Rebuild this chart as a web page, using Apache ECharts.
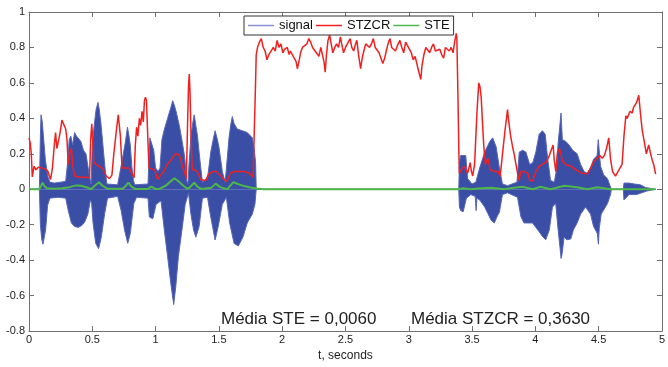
<!DOCTYPE html>
<html>
<head>
<meta charset="utf-8">
<script src="https://cdn.jsdelivr.net/npm/echarts@6/dist/echarts.min.js"></script>
<style>html,body{margin:0;padding:0;background:#fff}#c{width:668px;height:367px}</style>
</head>
<body>
<div id="c"></div>
<script>
// ---- data (t in seconds, value) ----
const signalUpper = [
[0,0],[0.082,0],[0.090,0.30],[0.095,0.42],[0.105,0.38],[0.115,0.29],[0.130,0.16],[0.150,0.07],[0.165,0.04],
[0.20,0.035],[0.25,0.04],[0.29,0.045],[0.305,0.15],[0.318,0.28],[0.330,0.30],[0.345,0.25],[0.36,0.32],[0.375,0.30],
[0.39,0.29],[0.41,0.27],[0.43,0.22],[0.45,0.20],[0.465,0.19],[0.478,0.07],[0.49,0.03],[0.50,0.25],[0.515,0.36],
[0.53,0.45],[0.545,0.49],[0.555,0.45],[0.57,0.36],[0.59,0.20],[0.605,0.09],[0.615,0.03],[0.70,0.025],[0.725,0.12],
[0.745,0.20],[0.76,0.26],[0.778,0.35],[0.79,0.30],[0.80,0.25],[0.812,0.13],[0.825,0.05],[0.835,0.025],[0.94,0.03],
[0.955,0.29],[0.97,0.30],[0.985,0.22],[1.0,0.12],[1.02,0.10],[1.035,0.12],[1.05,0.28],[1.07,0.34],[1.095,0.40],
[1.12,0.46],[1.135,0.50],[1.15,0.47],[1.165,0.43],[1.187,0.36],[1.21,0.27],[1.23,0.18],[1.245,0.05],[1.255,0.03],
[1.265,0.15],[1.28,0.30],[1.295,0.38],[1.305,0.42],[1.318,0.36],[1.331,0.30],[1.345,0.20],[1.357,0.12],[1.37,0.04],
[1.41,0.06],[1.436,0.21],[1.455,0.28],[1.47,0.33],[1.485,0.29],[1.50,0.24],[1.527,0.10],[1.55,0.04],[1.565,0.05],
[1.58,0.29],[1.595,0.37],[1.606,0.41],[1.62,0.37],[1.645,0.34],[1.685,0.33],[1.724,0.32],[1.764,0.29],[1.78,0.22],
[1.79,0.15],[1.795,0],[3.395,0],[3.40,0.15],[3.41,0.19],[3.45,0.19],[3.465,0.06],[3.50,0.03],[3.53,0.04],[3.56,0.12],
[3.60,0.21],[3.64,0.27],[3.663,0.29],[3.69,0.24],[3.716,0.12],[3.74,0.03],[3.78,0.02],[3.855,0.04],[3.873,0.21],
[3.90,0.22],[3.925,0.21],[3.955,0.14],[3.98,0.15],[4.004,0.21],[4.03,0.31],[4.056,0.33],[4.078,0.31],[4.096,0.18],
[4.12,0.05],[4.15,0.04],[4.165,0.10],[4.18,0.26],[4.195,0.27],[4.203,0.43],[4.208,0.43],[4.213,0.28],[4.24,0.27],
[4.266,0.25],[4.295,0.22],[4.33,0.20],[4.358,0.14],[4.385,0.10],[4.41,0.09],[4.436,0.12],[4.46,0.17],[4.488,0.19],
[4.497,0.28],[4.503,0.28],[4.515,0.13],[4.54,0.08],[4.57,0.06],[4.59,0.02],[4.60,0],[4.695,0],[4.70,0.035],
[4.74,0.035],[4.78,0.03],[4.83,0.025],[4.87,0.01],[4.88,0],[4.95,0]
];
const signalLower = [
[0,0],[0.082,0],[0.090,-0.20],[0.100,-0.28],[0.110,-0.31],[0.120,-0.315],[0.131,-0.23],[0.147,-0.09],[0.165,-0.05],
[0.23,-0.045],[0.29,-0.05],[0.31,-0.12],[0.335,-0.19],[0.36,-0.21],[0.39,-0.215],[0.415,-0.205],[0.44,-0.185],
[0.465,-0.14],[0.485,-0.06],[0.495,-0.08],[0.506,-0.19],[0.527,-0.305],[0.55,-0.335],[0.571,-0.27],[0.597,-0.14],
[0.62,-0.05],[0.70,-0.04],[0.728,-0.12],[0.755,-0.23],[0.78,-0.305],[0.80,-0.25],[0.828,-0.08],[0.85,-0.045],
[0.94,-0.05],[0.951,-0.157],[0.978,-0.166],[1.004,-0.085],[1.043,-0.065],[1.069,-0.23],[1.095,-0.38],[1.12,-0.53],
[1.143,-0.65],[1.16,-0.545],[1.18,-0.38],[1.208,-0.23],[1.234,-0.085],[1.26,-0.02],[1.279,-0.14],[1.30,-0.23],
[1.318,-0.27],[1.344,-0.21],[1.37,-0.05],[1.41,-0.045],[1.436,-0.157],[1.47,-0.286],[1.495,-0.21],[1.527,-0.085],
[1.559,-0.045],[1.585,-0.19],[1.62,-0.305],[1.653,-0.32],[1.69,-0.27],[1.724,-0.19],[1.764,-0.14],[1.785,-0.083],
[1.795,0],[3.395,0],[3.40,-0.10],[3.41,-0.12],[3.43,-0.127],[3.455,-0.05],[3.49,-0.03],[3.525,-0.04],[3.532,-0.12],
[3.538,-0.05],[3.56,-0.06],[3.60,-0.10],[3.625,-0.137],[3.65,-0.174],[3.676,-0.19],[3.70,-0.15],[3.716,-0.13],
[3.74,-0.03],[3.78,-0.02],[3.859,-0.045],[3.886,-0.155],[3.91,-0.19],[3.94,-0.19],[3.978,-0.19],[4.03,-0.24],
[4.056,-0.266],[4.082,-0.285],[4.11,-0.23],[4.135,-0.10],[4.161,-0.08],[4.18,-0.23],[4.195,-0.33],[4.203,-0.39],
[4.21,-0.37],[4.227,-0.27],[4.25,-0.285],[4.28,-0.28],[4.30,-0.23],[4.33,-0.19],[4.358,-0.14],[4.397,-0.10],
[4.436,-0.14],[4.46,-0.21],[4.49,-0.25],[4.498,-0.31],[4.505,-0.22],[4.52,-0.14],[4.57,-0.08],[4.594,-0.03],
[4.60,0],[4.695,0],[4.70,-0.06],[4.74,-0.03],[4.80,-0.03],[4.88,-0.01],[4.885,0],[4.95,0]
];
const stzcr = [
[0.000,0.29],[0.010,0.26],[0.018,0.20],[0.026,0.07],[0.040,0.13],[0.055,0.11],[0.075,0.125],[0.100,0.12],[0.130,0.115],
[0.150,0.10],[0.170,0.055],[0.185,0.12],[0.200,0.25],[0.210,0.32],[0.220,0.23],[0.235,0.28],[0.248,0.33],[0.260,0.39],
[0.275,0.385],[0.290,0.34],[0.300,0.28],[0.310,0.14],[0.322,0.20],[0.335,0.23],[0.348,0.12],[0.362,0.075],[0.400,0.068],
[0.440,0.068],[0.478,0.065],[0.487,0.28],[0.496,0.37],[0.503,0.38],[0.512,0.15],[0.530,0.14],[0.555,0.13],[0.585,0.115],
[0.610,0.075],[0.635,0.06],[0.655,0.08],[0.670,0.20],[0.690,0.33],[0.705,0.42],[0.712,0.43],[0.722,0.30],[0.735,0.12],
[0.760,0.12],[0.790,0.12],[0.812,0.09],[0.830,0.065],[0.840,0.25],[0.850,0.35],[0.860,0.30],[0.872,0.40],[0.882,0.36],
[0.893,0.44],[0.903,0.38],[0.912,0.50],[0.920,0.52],[0.928,0.50],[0.938,0.30],[0.948,0.12],[0.970,0.115],[0.995,0.11],
[1.015,0.055],[1.040,0.08],[1.065,0.10],[1.090,0.14],[1.115,0.16],[1.135,0.18],[1.155,0.20],[1.175,0.20],[1.195,0.18],
[1.215,0.12],[1.232,0.09],[1.243,0.06],[1.252,0.35],[1.260,0.58],[1.266,0.65],[1.272,0.55],[1.280,0.30],[1.290,0.11],
[1.310,0.11],[1.330,0.10],[1.355,0.055],[1.395,0.05],[1.420,0.085],[1.450,0.10],[1.480,0.10],[1.510,0.08],[1.540,0.055],
[1.565,0.045],[1.590,0.09],[1.620,0.10],[1.660,0.10],[1.700,0.10],[1.740,0.09],[1.770,0.07],[1.778,0.06],[1.788,0.55],
[1.795,0.76],[1.805,0.80],[1.82,0.83],[1.835,0.85],[1.85,0.80],[1.865,0.78],[1.88,0.73],[1.895,0.76],[1.91,0.75],
[1.93,0.80],[1.945,0.78],[1.96,0.84],[1.975,0.80],[1.99,0.82],[2.005,0.77],[2.02,0.79],[2.04,0.80],[2.055,0.76],
[2.065,0.78],[2.08,0.77],[2.095,0.74],[2.11,0.72],[2.12,0.68],[2.135,0.73],[2.145,0.77],[2.16,0.80],[2.175,0.79],
[2.195,0.82],[2.21,0.85],[2.225,0.83],[2.24,0.80],[2.255,0.81],[2.27,0.77],[2.29,0.75],[2.305,0.80],[2.32,0.79],
[2.33,0.72],[2.34,0.66],[2.35,0.76],[2.362,0.84],[2.375,0.87],[2.385,0.83],[2.40,0.77],[2.415,0.80],[2.43,0.82],
[2.445,0.80],[2.46,0.86],[2.47,0.82],[2.485,0.77],[2.50,0.80],[2.515,0.81],[2.537,0.85],[2.55,0.80],[2.565,0.78],
[2.58,0.82],[2.59,0.84],[2.605,0.75],[2.62,0.68],[2.632,0.74],[2.645,0.78],[2.66,0.82],[2.675,0.83],[2.69,0.80],
[2.705,0.82],[2.72,0.85],[2.735,0.80],[2.75,0.79],[2.765,0.77],[2.78,0.78],[2.795,0.71],[2.81,0.74],[2.825,0.79],
[2.84,0.83],[2.852,0.85],[2.865,0.80],[2.88,0.79],[2.895,0.78],[2.91,0.81],[2.93,0.84],[2.945,0.80],[2.96,0.77],
[2.975,0.83],[2.99,0.84],[3.005,0.79],[3.02,0.77],[3.035,0.73],[3.05,0.75],[3.065,0.74],[3.08,0.66],[3.095,0.62],
[3.105,0.70],[3.12,0.76],[3.135,0.80],[3.15,0.79],[3.165,0.77],[3.18,0.80],[3.195,0.82],[3.21,0.78],[3.225,0.77],
[3.245,0.79],[3.26,0.76],[3.275,0.74],[3.29,0.80],[3.305,0.79],[3.32,0.78],[3.335,0.80],[3.35,0.77],[3.362,0.83],
[3.375,0.88],[3.38,0.85],[3.388,0.55],[3.396,0.20],[3.40,0.09],[3.415,0.11],[3.428,0.11],[3.44,0.13],[3.454,0.13],
[3.465,0.09],[3.475,0.12],[3.485,0.15],[3.495,0.10],[3.505,0.075],[3.52,0.14],[3.53,0.30],[3.54,0.45],[3.553,0.60],
[3.562,0.58],[3.572,0.52],[3.582,0.38],[3.592,0.25],[3.605,0.14],[3.625,0.175],[3.643,0.11],[3.68,0.10],[3.705,0.10],
[3.722,0.074],[3.742,0.21],[3.76,0.33],[3.772,0.40],[3.78,0.45],[3.79,0.38],[3.805,0.30],[3.82,0.24],[3.835,0.19],
[3.852,0.12],[3.87,0.05],[3.885,0.10],[3.912,0.10],[3.94,0.09],[3.957,0.05],[3.978,0.047],[4.004,0.10],[4.03,0.13],
[4.056,0.14],[4.088,0.155],[4.11,0.19],[4.125,0.22],[4.14,0.25],[4.15,0.16],[4.162,0.10],[4.175,0.21],[4.19,0.23],
[4.205,0.22],[4.214,0.16],[4.24,0.14],[4.28,0.13],[4.32,0.11],[4.345,0.10],[4.37,0.09],[4.41,0.087],[4.436,0.12],
[4.46,0.155],[4.488,0.175],[4.51,0.19],[4.528,0.175],[4.545,0.19],[4.562,0.23],[4.58,0.29],[4.593,0.175],[4.61,0.10],
[4.633,0.074],[4.66,0.11],[4.685,0.14],[4.70,0.30],[4.715,0.415],[4.725,0.40],[4.737,0.39],[4.748,0.44],[4.756,0.45],
[4.765,0.43],[4.775,0.46],[4.79,0.47],[4.80,0.49],[4.81,0.50],[4.817,0.53],[4.83,0.43],[4.843,0.34],[4.86,0.27],
[4.877,0.20],[4.895,0.25],[4.914,0.19],[4.925,0.16],[4.935,0.14],[4.95,0.085]
];
const ste = [
[0,0],[0.08,0],[0.095,0.02],[0.107,0.037],[0.12,0.02],[0.14,0.006],[0.20,0.003],[0.26,0.006],[0.32,0.012],[0.37,0.022],
[0.41,0.02],[0.46,0.01],[0.49,0.0],[0.52,0.02],[0.553,0.04],[0.58,0.02],[0.62,0.003],[0.74,0.003],[0.765,0.02],
[0.785,0.037],[0.81,0.015],[0.84,0.002],[0.94,0.002],[0.965,0.015],[0.98,0.012],[1.0,0.003],[1.03,0.002],[1.08,0.02],
[1.12,0.045],[1.148,0.062],[1.18,0.045],[1.22,0.02],[1.25,0.003],[1.27,0.01],[1.305,0.037],[1.33,0.015],[1.36,0.002],
[1.44,0.008],[1.475,0.032],[1.51,0.012],[1.567,0.0],[1.59,0.02],[1.615,0.04],[1.65,0.03],[1.70,0.018],[1.75,0.01],
[1.80,0.004],[1.85,0],[3.39,0],[3.43,0.006],[3.49,0.0],[3.55,0.005],[3.65,0.008],[3.755,0.0],[3.83,0.008],[3.90,0.014],
[3.98,0.0],[4.04,0.014],[4.12,0.0],[4.23,0.02],[4.33,0.012],[4.41,0.0],[4.49,0.011],[4.594,0.0],[4.95,0]
];
const xTicks = {min: 0, max: 5, step: 0.5};
const yTicks = {min: -0.8, max: 1, step: 0.2};
const seriesNames = ['signal', 'STZCR', 'STE'];
const notes = ['Média STE = 0,0060', 'Média STZCR = 0,3630'];
const xName = 't, seconds';

// ---- chart ----
const FONT = 'Liberation Sans, Arial, sans-serif';
const AX = '#707070';
const chart = echarts.init(document.getElementById('c'), null, {renderer: 'canvas'});
const axisCommon = {
  type: 'value',
  axisLine: {show: true, onZero: false, lineStyle: {color: AX, width: 1}},
  axisTick: {show: true, inside: true, length: 5, lineStyle: {color: AX}},
  splitLine: {show: false}
};
const BLUE = '#3a4ea6';
const EDGE = '#5666b8';
chart.setOption({
  animation: false,
  backgroundColor: '#fff',
  grid: {left: 29, right: 3, top: 12, bottom: 30},
  legend: {
    left: 244, top: 16,
    padding: [3, 4, 3, 4],
    backgroundColor: '#fff', borderColor: '#333', borderWidth: 1,
    icon: 'rect', itemWidth: 26, itemHeight: 1.5, itemGap: 3,
    textStyle: {fontSize: 13, color: '#111', fontFamily: FONT},
    data: [{name: seriesNames[0], itemStyle: {color: '#8a8ed2'}}, seriesNames[1], seriesNames[2]]
  },
  xAxis: [
    Object.assign({}, axisCommon, {
      min: xTicks.min, max: xTicks.max, interval: xTicks.step, position: 'bottom',
      axisLabel: {margin: 3, fontSize: 11, color: '#222', fontFamily: FONT},
      name: xName, nameLocation: 'middle', nameGap: 15,
      nameTextStyle: {fontSize: 12, color: '#222', fontFamily: FONT}
    }),
    Object.assign({}, axisCommon, {
      min: xTicks.min, max: xTicks.max, interval: xTicks.step, position: 'top',
      axisLabel: {show: false}
    })
  ],
  yAxis: [
    Object.assign({}, axisCommon, {
      min: yTicks.min, max: yTicks.max, interval: yTicks.step, position: 'left',
      axisLabel: {margin: 4, fontSize: 11, color: '#222', fontFamily: FONT}
    }),
    Object.assign({}, axisCommon, {
      min: yTicks.min, max: yTicks.max, interval: yTicks.step, position: 'right',
      axisLabel: {show: false}
    })
  ],
  series: [
    {name: seriesNames[0], type: 'line', data: signalUpper, symbol: 'none', z: 1,
     itemStyle: {color: BLUE}, lineStyle: {color: EDGE, width: 1},
     areaStyle: {color: BLUE, opacity: 1, origin: 0}},
    {name: seriesNames[0], type: 'line', data: signalLower, symbol: 'none', z: 1,
     itemStyle: {color: BLUE}, lineStyle: {color: EDGE, width: 1},
     areaStyle: {color: BLUE, opacity: 1, origin: 0}},
    {name: seriesNames[1], type: 'line', data: stzcr, symbol: 'none', z: 3,
     itemStyle: {color: '#f02020'}, lineStyle: {color: '#f02020', width: 1.5}},
    {name: seriesNames[2], type: 'line', data: ste, symbol: 'none', z: 4,
     itemStyle: {color: '#4cb848'}, lineStyle: {color: '#4cb848', width: 2}}
  ],
  graphic: [
    {type: 'text', left: 221, top: 311, z: 10,
     style: {text: notes[0], font: '17px ' + FONT, fill: '#222'}},
    {type: 'text', left: 411, top: 311, z: 10,
     style: {text: notes[1], font: '17px ' + FONT, fill: '#222'}}
  ]
});
</script>
</body>
</html>
